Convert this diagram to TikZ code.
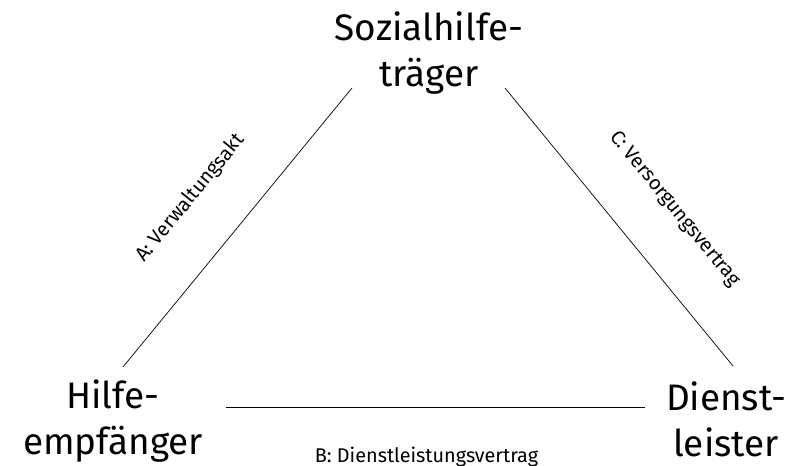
\documentclass[tikz,border=0pt]{standalone}
\usepackage{fontspec}
\setmainfont{Fira Sans}
\usepackage{tikz}
\usetikzlibrary{positioning}

\tikzset{
  party/.style={align=center, inner sep=0pt, font=\fontsize{21}{26}\selectfont},
  relation/.style={font=\fontsize{11.3}{13}\selectfont, inner sep=0pt}
}

\begin{document}
\begin{tikzpicture}[x=0.02cm, y=-0.02cm]
    \useasboundingbox (0,0) rectangle (796,466);

    % The three parties
    \node[party] (traeger) at (429,53) {Sozialhilfe-\\träger};
    \node[party] (empf) at (113,421) {Hilfe-\\empfänger};
    \node[party] (dienst) at (726,419) {Dienst-\\leister};

    % Ends of the relations
    \coordinate (aStart) at (123,367);
    \coordinate (aEnd) at (352,88);
    \coordinate (cStart) at (505,88);
    \coordinate (cEnd) at (733,366);
    \coordinate (bStart) at (226,407);
    \coordinate (bEnd) at (645,407);

    % A: between recipient and agency
    \draw (aStart) -- (aEnd)
        node[relation, pos=0.48, sloped, above=0.9cm] (labA) {A: Verwaltungsakt};

    % C: between agency and provider
    \draw (cStart) -- (cEnd)
        node[relation, pos=0.56, sloped, above=0.9cm] (labC) {C: Versorgungsvertrag};

    % B: between recipient and provider
    \draw (bStart) -- (bEnd)
        node[relation, midway, below=0.8cm, xshift=-0.18cm] (labB) {B: Dienstleistungsvertrag};

\end{tikzpicture}
\end{document}
